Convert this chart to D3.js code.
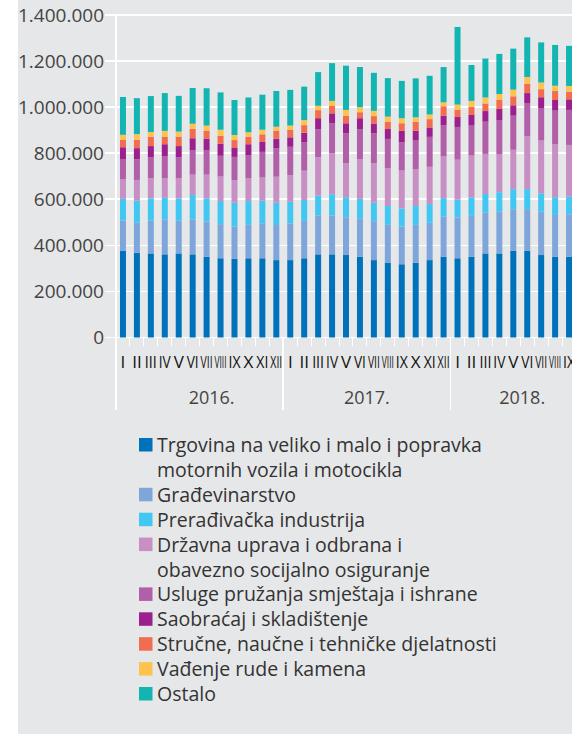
<!DOCTYPE html>
<meta charset="utf-8">
<style>
  body { margin: 0; background: #fff; }
  svg text { font-family: "Open Sans", "Noto Sans", sans-serif; }
  .grid line { stroke: #fff; stroke-width: 1.6px; shape-rendering: crispEdges; }
  .ylab { font-size: 19px; fill: #444; }
  .mlab { font-size: 17px; fill: #111; }
  .year { font-size: 18px; fill: #444; }
  .leg { font-size: 19.5px; fill: #333; }
</style>
<body>
<script src="https://d3js.org/d3.v7.min.js"></script>
<script>

// months per year (2018 ends in IX)
var years = ["2016.", "2017.", "2018."];
var months = ["I", "II", "III", "IV", "V", "VI", "VII", "VIII", "IX", "X", "XI", "XII"];
var yTicks = [0, 200000, 400000, 600000, 800000, 1000000, 1200000, 1400000];

// number of employees by sector, Jan 2016 - Sep 2018
var trgovina   = [376000,368000,365000,361000,365000,361000,351000,344000,341000,344000,344000,336000, 336000,344000,361000,361000,358000,351000,336000,325000,318000,325000,336000,351000, 344000,351000,365000,365000,376000,376000,358000,351000,351000];
var gradjevin  = [132000,130000,142000,152000,142000,152000,153000,148000,140000,145000,152000,152000, 159000,162000,168000,168000,164000,164000,169000,164000,164000,164000,162000,174000, 177000,177000,178000,181000,181000,181000,188000,181000,184000];
var preradj    = [94000,96000,97000,94000,97000,106000,100000,100000,104000,103000,98000,97000, 94000,91000,87000,93000,87000,87000,80000,82000,78000,82000,81000,80000, 77000,80000,80000,85000,87000,87000,80000,77000,76000];
var drzavna    = [85000,90000,87000,84000,87000,88000,103000,107000,98000,100000,101000,113000, 116000,127000,166000,178000,148000,172000,171000,164000,165000,159000,162000,181000, 174000,182000,174000,165000,171000,229000,229000,230000,225000];
var usluge     = [88000,90000,91000,97000,91000,107000,107000,90000,101000,98000,111000,123000, 123000,123000,122000,130000,130000,130000,130000,127000,123000,125000,130000,135000, 142000,130000,140000,148000,148000,145000,139000,146000,152000];
var saobracaj  = [51000,48000,49000,51000,49000,51000,49000,52000,41000,49000,43000,42000, 41000,42000,48000,43000,43000,48000,43000,43000,49000,43000,41000,42000, 43000,46000,46000,48000,45000,43000,49000,46000,46000];
var strucne    = [32000,36000,41000,33000,41000,41000,35000,35000,32000,33000,33000,35000, 32000,33000,35000,32000,32000,26000,32000,32000,33000,39000,36000,41000, 32000,36000,33000,39000,39000,41000,35000,39000,33000];
var vadjenje   = [22000,25000,20000,25000,22000,22000,22000,26000,22000,19000,20000,17000, 19000,22000,19000,22000,26000,22000,23000,22000,22000,19000,20000,17000, 22000,25000,26000,26000,29000,29000,29000,23000,25000];
var ostalo     = [164000,156000,156000,164000,155000,155000,162000,162000,152000,151000,152000,155000, 155000,145000,146000,164000,192000,174000,165000,167000,162000,169000,168000,153000, 337000,156000,169000,174000,178000,172000,174000,177000,174000];

var seriesNames = [
  ["Trgovina na veliko i malo i popravka", "motornih vozila i motocikla"],
  ["Građevinarstvo"],
  ["Prerađivačka industrija"],
  ["Državna uprava i odbrana i", "obavezno socijalno osiguranje"],
  ["Usluge pružanja smještaja i ishrane"],
  ["Saobraćaj i skladištenje"],
  ["Stručne, naučne i tehničke djelatnosti"],
  ["Vađenje rude i kamena"],
  ["Ostalo"]
];
var seriesData = [trgovina, gradjevin, preradj, drzavna, usluge, saobracaj, strucne, vadjenje, ostalo];
var colors = ["#0072bc", "#7ea6da", "#41c7f2", "#c78fc3", "#b05fa8", "#9b1f8c", "#f26c4f", "#fdc34e", "#12b5b1"];

var W = 572, H = 749;
var margin = {left: 116, top: 15, step: 13.94};
var nSlots = years.length * months.length;
var baseY = 337.5;

var svg = d3.select("body").append("svg")
    .attr("width", W)
    .attr("height", H);

svg.append("rect")
    .attr("x", 18).attr("y", 0)
    .attr("width", W - 18).attr("height", 734)
    .attr("fill", "#e6e7e8");

var slots = d3.range(nSlots);
var x = d3.scaleBand()
    .domain(slots)
    .range([margin.left, margin.left + nSlots * margin.step])
    .paddingInner(0.57)
    .paddingOuter(0.285);
var step = x.step();
var x0 = margin.left;

var y = d3.scaleLinear()
    .domain([0, 1400000])
    .range([baseY, margin.top]);

// horizontal gridlines
var grid = svg.append("g").attr("class", "grid");
grid.selectAll("line.h")
    .data(yTicks)
  .enter().append("line")
    .attr("x1", 105).attr("x2", W)
    .attr("y1", function(d) { return y(d); })
    .attr("y2", function(d) { return y(d); });

// left axis line
grid.append("line")
    .attr("x1", x0).attr("x2", x0)
    .attr("y1", y(1400000)).attr("y2", 410);

// year separators
grid.selectAll("line.sep")
    .data(d3.range(1, years.length + 1))
  .enter().append("line")
    .attr("x1", function(d) { return x0 + d * months.length * step; })
    .attr("x2", function(d) { return x0 + d * months.length * step; })
    .attr("y1", baseY).attr("y2", 410);

// month ticks
grid.selectAll("line.tick")
    .data(d3.range(1, nSlots))
  .enter().append("line")
    .style("stroke-width", "1px")
    .attr("x1", function(d) { return x0 + d * step; })
    .attr("x2", function(d) { return x0 + d * step; })
    .attr("y1", baseY).attr("y2", baseY + 8);

// y labels
var fmt = d3.formatLocale({decimal: ",", thousands: ".", grouping: [3], currency: ["", ""]}).format(",");
svg.selectAll("text.ylab")
    .data(yTicks)
  .enter().append("text")
    .attr("class", "ylab")
    .attr("x", 104)
    .attr("y", function(d) { return y(d); })
    .attr("dy", "0.36em")
    .attr("text-anchor", "end")
    .text(function(d) { return fmt(d); });

// stacked bars
var table = trgovina.map(function(d, i) {
  var row = {slot: i};
  seriesData.forEach(function(s, k) { row["s" + k] = s[i]; });
  return row;
});
var stack = d3.stack().keys(seriesData.map(function(s, k) { return "s" + k; }))(table);

svg.append("g")
  .selectAll("g")
    .data(stack)
  .enter().append("g")
    .attr("fill", function(d, k) { return colors[k]; })
  .selectAll("rect")
    .data(function(d) { return d; })
  .enter().append("rect")
    .attr("x", function(d) { return x(d.data.slot); })
    .attr("width", x.bandwidth())
    .attr("y", function(d) { return y(d[1]); })
    .attr("height", function(d) { return y(d[0]) - y(d[1]); });

// month labels, squeezed like the original
var mlabs = svg.selectAll("text.mlab")
    .data(slots)
  .enter().append("text")
    .attr("class", "mlab")
    .attr("x", function(d) { return x(d) + x.bandwidth() / 2; })
    .attr("y", 368)
    .attr("text-anchor", "middle")
    .text(function(d) { return months[d % months.length]; });
mlabs.each(function() {
  var w = this.getComputedTextLength();
  if (w > 12) d3.select(this).attr("textLength", 12).attr("lengthAdjust", "spacingAndGlyphs");
});

// year labels (placed a bit off-centre in the source)
svg.selectAll("text.year")
    .data(years)
  .enter().append("text")
    .attr("class", "year")
    .attr("x", function(d, i) { return x0 + (i + 0.5) * months.length * step + (1 - i) * 12; })
    .attr("y", 404)
    .attr("text-anchor", "middle")
    .text(function(d) { return d; });

// legend
var legend = svg.append("g");
var line = 0;
seriesNames.forEach(function(lines, k) {
  var cy = 445 + line * 24.9;
  legend.append("rect")
      .attr("x", 139).attr("y", cy - 7)
      .attr("width", 13.5).attr("height", 13.5)
      .attr("fill", colors[k]);
  lines.forEach(function(t, j) {
    legend.append("text")
        .attr("class", "leg")
        .attr("x", 157)
        .attr("y", cy + j * 24.9)
        .attr("dy", "0.36em")
        .text(t);
  });
  line += lines.length;
});

</script>
</body>
